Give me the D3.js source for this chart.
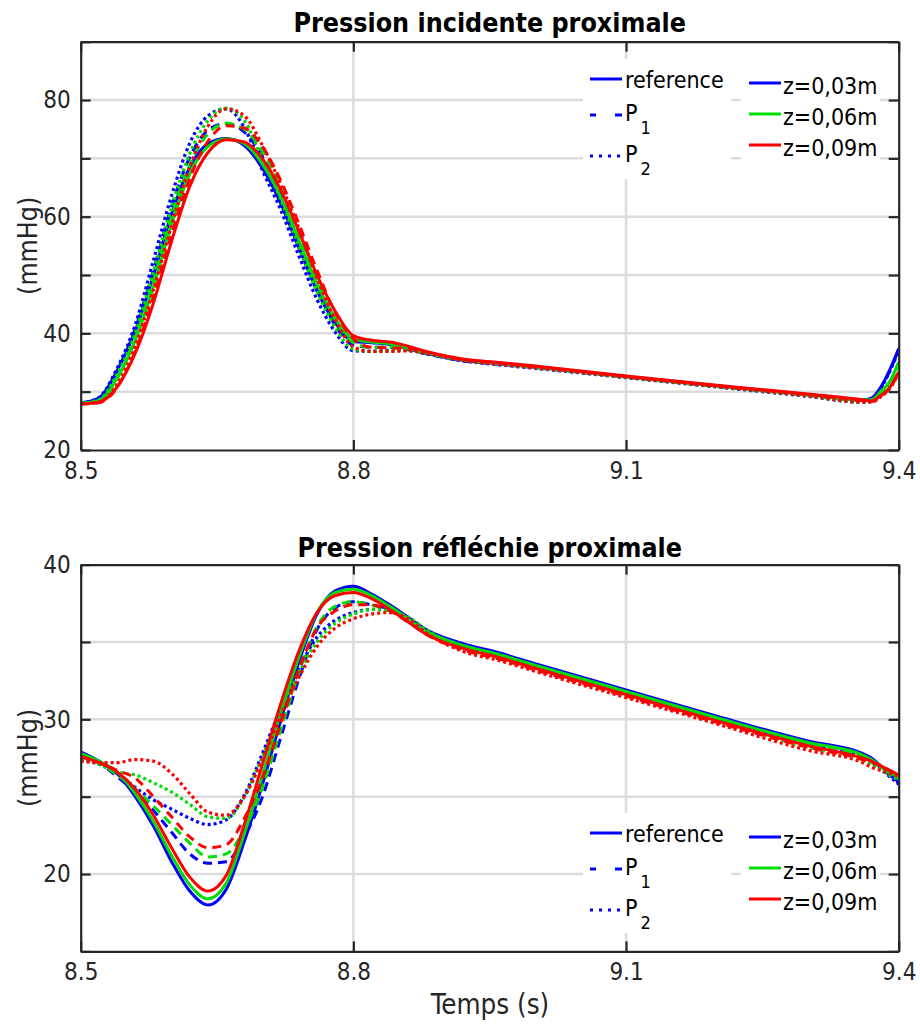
<!DOCTYPE html>
<html><head><meta charset="utf-8">
<script src="https://cdn.jsdelivr.net/npm/d3@7"></script>
<style>
body{margin:0;background:#fff;}
text{font-family:"DejaVu Sans Condensed","DejaVu Sans",sans-serif;font-stretch:condensed;}
</style></head><body>
<svg id="c" width="920" height="1030"></svg>
<script>
// ---------------- DATA ----------------
const times = [8.50, 8.52, 8.54, 8.56, 8.58, 8.60, 8.62, 8.64, 8.66, 8.68, 8.70, 8.72, 8.74, 8.76, 8.78, 8.80, 8.82, 8.84, 8.86, 8.88, 8.92, 8.96, 9.00, 9.10, 9.20, 9.30, 9.36, 9.37, 9.38, 9.39, 9.40];

const zLabels = ["z=0,03m", "z=0,06m", "z=0,09m"];
const methodLabels = ["reference", "P1", "P2"];
const xTicks = [8.5, 8.8, 9.1, 9.4];
const xTickLabels = ["8.5", "8.8", "9.1", "9.4"];
const topYTicks = [20, 30, 40, 50, 60, 70, 80, 90];
const topYLabels = [20, 40, 60, 80];
const botYTicks = [15, 20, 25, 30, 35, 40];
const botYLabels = [20, 30, 40];
const titles = ["Pression incidente proximale", "Pression réfléchie proximale"];
const yLabel = "(mmHg)";
const xLabel = "Temps (s)";

// Pression incidente proximale
const incRef03 = [28.1, 28.9, 33.6, 40.4, 49.9, 60.5, 68.5, 72.5, 73.4, 72.2, 68.3, 62.3, 54.7, 47.3, 41.8, 38.6, 38.4, 38.1, 37.4, 36.6, 35.4, 34.8, 34.2, 32.6, 31.0, 29.5, 28.6, 28.9, 30.7, 33.7, 37.4];
const incRef06 = [28.0, 28.5, 32.3, 38.8, 48.0, 58.8, 67.3, 72.0, 73.3, 72.5, 69.0, 63.4, 56.0, 48.5, 42.6, 39.0, 38.5, 38.2, 37.5, 36.7, 35.5, 34.9, 34.3, 32.6, 31.0, 29.5, 28.6, 28.6, 30.0, 31.7, 35.1];
const incRef09 = [27.9, 28.2, 30.8, 36.6, 45.2, 55.8, 65.2, 71.0, 73.2, 72.8, 69.9, 64.6, 57.5, 50.0, 43.8, 39.6, 38.8, 38.5, 37.8, 36.9, 35.6, 35.0, 34.4, 32.7, 31.1, 29.6, 28.6, 28.4, 29.3, 30.7, 33.4];
const incP1_03 = [28.0, 28.8, 33.5, 40.8, 50.8, 61.8, 70.2, 74.8, 76.0, 74.5, 70.3, 63.8, 55.8, 47.8, 41.4, 38.0, 37.6, 37.6, 37.2, 36.5, 35.3, 34.7, 34.1, 32.5, 30.9, 29.4, 28.5, 28.8, 30.6, 33.5, 37.2];
const incP1_06 = [28.0, 28.4, 32.2, 39.3, 49.0, 60.0, 68.9, 74.2, 76.0, 75.0, 71.2, 65.0, 57.2, 49.1, 42.3, 38.4, 37.6, 37.6, 37.3, 36.6, 35.4, 34.8, 34.2, 32.5, 30.9, 29.4, 28.5, 28.5, 29.9, 31.6, 35.0];
const incP1_09 = [27.9, 28.1, 30.7, 37.0, 46.2, 57.0, 66.5, 72.9, 75.6, 75.2, 72.0, 66.2, 58.8, 50.8, 43.6, 39.1, 37.6, 37.5, 37.4, 36.8, 35.5, 34.9, 34.3, 32.6, 31.0, 29.5, 28.5, 28.3, 29.2, 30.6, 33.2];
const incP2_03 = [28.0, 29.0, 34.0, 41.5, 52.5, 63.6, 72.6, 77.3, 78.5, 75.3, 67.9, 61.2, 53.3, 45.8, 40.2, 37.0, 36.9, 37.1, 37.1, 36.5, 35.3, 34.6, 34.0, 32.4, 30.8, 29.2, 28.2, 28.6, 30.5, 33.4, 37.0];
const incP2_06 = [28.0, 28.6, 33.0, 40.0, 50.5, 61.5, 70.8, 76.5, 78.6, 76.5, 69.8, 63.0, 55.0, 47.2, 41.0, 37.3, 36.9, 37.0, 37.1, 36.6, 35.4, 34.7, 34.1, 32.5, 30.9, 29.3, 28.2, 28.4, 29.8, 31.5, 34.9];
const incP2_09 = [27.9, 28.2, 31.2, 37.8, 47.5, 58.5, 68.5, 75.5, 78.5, 77.3, 72.2, 65.6, 58.0, 49.5, 42.3, 37.7, 36.9, 36.9, 37.0, 36.6, 35.4, 34.7, 34.1, 32.5, 30.9, 29.3, 28.2, 28.2, 29.1, 30.5, 33.2];

// Pression réfléchie proximale
const refRef03 = [27.9, 27.3, 26.5, 25.0, 23.1, 20.8, 18.9, 18.0, 19.0, 22.1, 25.8, 29.9, 33.7, 36.8, 38.3, 38.6, 38.1, 37.4, 36.6, 35.8, 34.9, 34.3, 33.6, 31.9, 30.2, 28.6, 27.8, 27.5, 27.0, 26.5, 25.9];
const refRef06 = [27.8, 27.3, 26.6, 25.2, 23.4, 21.2, 19.3, 18.4, 19.4, 22.6, 26.4, 30.4, 34.0, 36.9, 38.2, 38.4, 38.0, 37.3, 36.5, 35.7, 34.8, 34.2, 33.5, 31.8, 30.1, 28.5, 27.7, 27.4, 27.0, 26.6, 26.2];
const refRef09 = [27.6, 27.2, 26.6, 25.5, 23.8, 21.7, 19.8, 18.9, 19.9, 23.2, 27.1, 31.0, 34.4, 36.9, 38.0, 38.2, 37.8, 37.1, 36.3, 35.5, 34.6, 34.0, 33.3, 31.6, 29.9, 28.3, 27.5, 27.3, 27.0, 26.7, 26.4];
const refP1_03 = [27.7, 27.2, 26.3, 25.3, 24.1, 22.7, 21.3, 20.7, 20.8, 22.4, 25.0, 28.8, 32.6, 35.8, 37.2, 37.6, 37.4, 37.1, 36.5, 35.7, 34.8, 34.2, 33.5, 31.8, 30.1, 28.5, 27.7, 27.4, 26.9, 26.4, 25.9];
const refP1_06 = [27.7, 27.2, 26.4, 25.5, 24.4, 23.2, 22.0, 21.1, 21.3, 22.9, 25.6, 29.3, 33.0, 36.0, 37.3, 37.6, 37.4, 37.0, 36.4, 35.6, 34.7, 34.1, 33.4, 31.7, 30.0, 28.4, 27.6, 27.3, 26.9, 26.5, 26.2];
const refP1_09 = [27.6, 27.2, 26.7, 26.2, 25.0, 23.7, 22.4, 21.7, 21.9, 23.6, 26.2, 29.7, 33.2, 35.9, 37.0, 37.4, 37.4, 37.0, 36.3, 35.5, 34.5, 33.9, 33.2, 31.5, 29.8, 28.2, 27.4, 27.2, 27.0, 26.7, 26.4];
const refP2_03 = [27.4, 27.1, 26.5, 25.6, 24.8, 24.2, 23.6, 23.2, 23.5, 25.1, 27.8, 30.7, 33.3, 35.3, 36.4, 36.9, 37.1, 37.1, 36.6, 35.8, 34.7, 34.1, 33.4, 31.7, 30.0, 28.3, 27.5, 27.2, 26.8, 26.3, 25.8];
const refP2_06 = [27.5, 27.1, 26.6, 26.4, 25.9, 25.3, 24.5, 23.7, 23.6, 25.0, 27.6, 30.5, 33.0, 35.0, 36.2, 36.8, 37.1, 37.0, 36.6, 35.8, 34.6, 34.0, 33.3, 31.6, 29.9, 28.2, 27.4, 27.1, 26.8, 26.4, 26.1];
const refP2_09 = [27.3, 27.2, 27.2, 27.4, 27.3, 26.5, 25.2, 24.0, 23.8, 25.0, 27.4, 30.2, 32.7, 34.7, 35.9, 36.5, 36.8, 36.9, 36.5, 35.6, 34.4, 33.8, 33.1, 31.4, 29.7, 28.0, 27.2, 26.9, 26.7, 26.5, 26.3];

// ---------------- STYLES ----------------
const zColors = ["#0000ff", "#00dd00", "#ff0000"];
const dashes = [null, "9,6", "3,3"];
const legendDashes = [null, "6,19,7", "3,6"];
const axisColor = "#262626";
const gridColor = "#dcdcdc";

const topSeries = [
  [incRef03, incP1_03, incP2_03],
  [incRef06, incP1_06, incP2_06],
  [incRef09, incP1_09, incP2_09]
];
const botSeries = [
  [refRef03, refP1_03, refP2_03],
  [refRef06, refP1_06, refP2_06],
  [refRef09, refP1_09, refP2_09]
];

const svg = d3.select("#c");
const x = d3.scaleLinear().domain([8.5, 9.4]).range([80.7, 898.7]);

function drawPanel(cfg) {
  const y = cfg.y;
  const g = svg.append("g");
  const [x0, x1] = x.range();
  const [yb, yt] = y.range();
  // grid
  g.selectAll(".gx").data(xTicks.slice(1, -1)).join("line")
    .attr("x1", d => x(d)).attr("x2", d => x(d)).attr("y1", yt).attr("y2", yb)
    .attr("stroke", gridColor).attr("stroke-width", 2.5);
  g.selectAll(".gy").data(cfg.yTicks.slice(1, -1)).join("line")
    .attr("x1", x0).attr("x2", x1).attr("y1", d => y(d)).attr("y2", d => y(d))
    .attr("stroke", gridColor).attr("stroke-width", 2.5);
  // lines
  const line = d3.line().x((d, i) => x(times[i])).y(d => y(d)).curve(d3.curveMonotoneX);
  const clipId = "clip" + cfg.id;
  svg.append("clipPath").attr("id", clipId).append("rect")
    .attr("x", x0).attr("y", yt).attr("width", x1 - x0).attr("height", yb - yt);
  const lg = g.append("g").attr("clip-path", `url(#${clipId})`);
  cfg.series.forEach((trip, zi) => {
    trip.forEach((vals, mi) => {
      lg.append("path").datum(vals).attr("d", line)
        .attr("fill", "none").attr("stroke", zColors[zi])
        .attr("stroke-width", mi === 2 ? 3.2 : 3)
        .attr("stroke-dasharray", dashes[mi]);
    });
  });
  // legends
  const ly = cfg.legendY;
  const L = g.append("g");
  L.append("rect").attr("x", 583).attr("y", ly - 20).attr("width", 148).attr("height", 120).attr("fill", "#fff");
  L.append("rect").attr("x", 741).attr("y", ly - 17).attr("width", 139).attr("height", 104).attr("fill", "#fff");
  const l1Rows = [ly, ly + 36, ly + 77];
  methodLabels.forEach((m, i) => {
    L.append("line").attr("x1", 590).attr("x2", 622).attr("y1", l1Rows[i]).attr("y2", l1Rows[i])
      .attr("stroke", zColors[0]).attr("stroke-width", 3).attr("stroke-dasharray", legendDashes[i]);
    if (i === 0) {
      L.append("text").attr("x", 625).attr("y", l1Rows[i] + 1).attr("dominant-baseline", "central")
        .attr("font-size", 23).attr("fill", "#000").text(m);
    } else {
      const t = L.append("text").attr("x", 625).attr("y", l1Rows[i] - 2).attr("dominant-baseline", "central")
        .attr("font-size", 23).attr("fill", "#000");
      t.append("tspan").text(m[0]);
      t.append("tspan").attr("dx", 3).attr("dy", 14).attr("font-size", 18).text(m.slice(1));
    }
  });
  const l2Rows = [ly + 4, ly + 35, ly + 66];
  zLabels.forEach((z, i) => {
    L.append("line").attr("x1", 749).attr("x2", 781).attr("y1", l2Rows[i]).attr("y2", l2Rows[i])
      .attr("stroke", zColors[i]).attr("stroke-width", 3);
    L.append("text").attr("x", 783).attr("y", l2Rows[i] + 3).attr("dominant-baseline", "central")
      .attr("font-size", 23).attr("fill", "#000").text(z);
  });
  // axes
  const ax = (gen) => g.append("g").call(gen).call(s => {
    s.selectAll("path.domain").attr("stroke", axisColor).attr("stroke-width", 2.2);
    s.selectAll(".tick line").attr("stroke", axisColor).attr("stroke-width", 2.2);
    s.selectAll(".tick text").attr("fill", axisColor).attr("font-size", 24)
      .attr("font-family", '"DejaVu Sans Condensed","DejaVu Sans",sans-serif');
  });
  ax(gg => gg.attr("transform", `translate(${x0},0)`)
    .call(d3.axisLeft(y).tickValues(cfg.yTicks).tickSizeInner(-10).tickSizeOuter(0).tickPadding(10)
      .tickFormat(d => cfg.yLabels.includes(d) ? d : "")));
  ax(gg => gg.attr("transform", `translate(${x1},0)`)
    .call(d3.axisRight(y).tickValues(cfg.yTicks).tickSizeInner(-10).tickSizeOuter(0).tickFormat("")));
  ax(gg => gg.attr("transform", `translate(0,${yb})`)
    .call(d3.axisBottom(x).tickValues(xTicks).tickSizeInner(-10).tickSizeOuter(0).tickPadding(12)
      .tickFormat((d, i) => xTickLabels[i])));
  ax(gg => gg.attr("transform", `translate(0,${yt})`)
    .call(d3.axisTop(x).tickValues(xTicks).tickSizeInner(-10).tickSizeOuter(0).tickFormat("")));
  // title
  g.append("text").attr("x", (x0 + x1) / 2).attr("y", cfg.titleY).attr("text-anchor", "middle")
    .attr("dominant-baseline", "central").attr("font-weight", "bold").attr("font-size", 26.6).attr("fill", "#000")
    .text(cfg.title);
  // y label
  g.append("text").attr("transform", `translate(27,${(yt + yb) / 2}) rotate(-90)`)
    .attr("text-anchor", "middle").attr("dominant-baseline", "central")
    .attr("font-size", 26.5).attr("fill", axisColor).text(yLabel);
}

drawPanel({
  id: 1,
  y: d3.scaleLinear().domain([20, 90]).range([450, 41.7]),
  yTicks: topYTicks, yLabels: topYLabels,
  series: topSeries, legendY: 79, title: titles[0], titleY: 22
});
drawPanel({
  id: 2,
  y: d3.scaleLinear().domain([15, 40]).range([951.4, 564.6]),
  yTicks: botYTicks, yLabels: botYLabels,
  series: botSeries, legendY: 833, title: titles[1], titleY: 547
});
svg.append("text").attr("x", 490).attr("y", 1004).attr("text-anchor", "middle")
  .attr("dominant-baseline", "central").attr("font-size", 27.5).attr("fill", axisColor).text(xLabel);
</script>
</body></html>
